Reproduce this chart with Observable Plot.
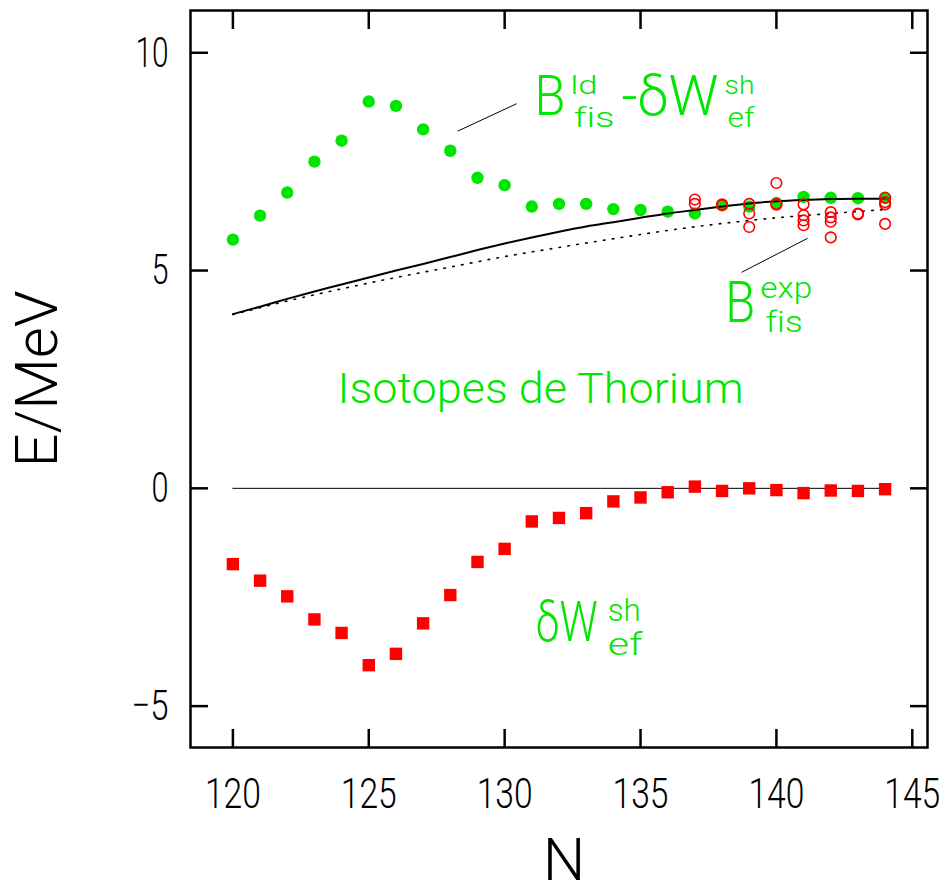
<!DOCTYPE html>
<html><head><meta charset="utf-8">
<script src="https://cdn.jsdelivr.net/npm/d3@7"></script>
<script src="https://cdn.jsdelivr.net/npm/@observablehq/plot@0.6"></script>
<style>
html,body{margin:0;padding:0;background:#fff;}
#chart svg{display:block}
#chart svg text{font-weight:300;font-variant-ligatures:none;font-feature-settings:"liga" 0}
</style></head><body><div id="chart"></div>
<script>
// Neutron number N for thorium isotopes
const neutrons = [120,121,122,123,124,125,126,127,128,129,130,131,132,133,134,135,136,137,138,139,140,141,142,143,144];
// B_fis^ld - δW_ef^sh (green filled circles)
const bLdMinusDw = [5.71,6.26,6.79,7.50,7.98,8.88,8.78,8.24,7.75,7.13,6.96,6.47,6.53,6.53,6.41,6.39,6.35,6.31,6.50,6.47,6.55,6.69,6.67,6.66,6.67];
// δW_ef^sh (red filled squares)
const deltaW = [-1.74,-2.12,-2.48,-3.01,-3.32,-4.06,-3.80,-3.10,-2.45,-1.69,-1.39,-0.76,-0.68,-0.57,-0.30,-0.21,-0.09,0.04,-0.06,0.00,-0.04,-0.11,-0.05,-0.06,-0.02];
// Experimental B_fis (red open circles)
const expN = [137,137,138,138,139,139,139,140,140,140,141,141,141,141,142,142,142,142,143,143,144,144,144,144];
const expB = [6.63,6.53,6.52,6.50,6.53,6.31,6.00,7.01,6.53,6.51,6.52,6.27,6.15,6.04,6.34,6.22,6.12,5.76,6.31,6.29,6.67,6.57,6.52,6.07];
// Solid curve
const solidN = [120,121,122,123,124,125,126,127,128,129,130,131,132,133,134,135,136,137,138,139,140,141,142,143,144];
const solidE = [4.00,4.17,4.35,4.52,4.68,4.84,5.00,5.15,5.31,5.47,5.62,5.76,5.89,6.01,6.11,6.21,6.31,6.39,6.47,6.54,6.59,6.62,6.64,6.65,6.65];
// Dotted curve
const dottedN = [120,122,124,126,128,130,132,134,136,138,140,142,144];
const dottedE = [3.99,4.30,4.58,4.84,5.08,5.32,5.53,5.73,5.92,6.08,6.21,6.31,6.40];
// Axis ticks
const xTicks = [120,125,130,135,140,145];
const yTicks = [-5,0,5,10];

// Annotation pieces (data coordinates of left baseline)
const annotations = [
  {t:"B",   n:131.10, e:8.57,  s:55, w:31},
  {t:"ld",  n:132.42, e:9.06,  s:26, w:27},
  {t:"fis", n:132.54, e:8.30,  s:28, w:41},
  {t:"-δW", n:134.30, e:8.57,  s:55, w:97},
  {t:"sh",  n:138.09, e:9.06,  s:26, w:30},
  {t:"ef",  n:138.20, e:8.30,  s:28, w:27},
  {t:"B",   n:138.12, e:3.81,  s:57, w:30},
  {t:"exp", n:139.41, e:4.36,  s:30, w:52},
  {t:"fis", n:139.60, e:3.58,  s:30, w:37},
  {t:"δW",  n:131.14, e:-3.50, s:56, w:62},
  {t:"sh",  n:133.79, e:-3.04, s:32, w:33},
  {t:"ef",  n:133.79, e:-3.82, s:32, w:35},
  {t:"Isotopes de Thorium", n:123.85, e:1.97, s:43, w:406}
];
const leaders = [
  {n1:128.27, e1:8.20, n2:130.44, e2:8.83},
  {n1:138.72, e1:4.96, n2:141.15, e2:5.74}
];

const GREEN = "#00e600", RED = "#ff0000";
const FONT = "Roboto, 'Liberation Sans', Arial, sans-serif";

const green = neutrons.map((n,i)=>({n, e:bLdMinusDw[i]}));
const red = neutrons.map((n,i)=>({n, e:deltaW[i]}));
const exp = expN.map((n,i)=>({n, e:expB[i]}));
const solid = solidN.map((n,i)=>({n, e:solidE[i]}));
const dotted = dottedN.map((n,i)=>({n, e:dottedE[i]}));

const chart = Plot.plot({
  width: 943, height: 883,
  marginLeft: 190, marginRight: 16, marginTop: 10, marginBottom: 136,
  style: {fontFamily: FONT, background: "#fff", color: "#000"},
  x: {domain: [118.44, 145.56]},
  y: {domain: [-5.95, 10.97]},
  marks: [
    Plot.ruleY([0], {x1: neutrons[0], x2: neutrons[neutrons.length-1], stroke: "#000", strokeWidth: 1}),
    Plot.dot(green, {x: "n", y: "e", r: 6.2, fill: GREEN, stroke: "none"}),
    Plot.line(dotted, {x: "n", y: "e", curve: "monotone-x", stroke: "#000", strokeWidth: 1.6, strokeDasharray: "1.6,7.4", strokeLinecap: "round"}),
    Plot.line(solid, {x: "n", y: "e", curve: "monotone-x", stroke: "#000", strokeWidth: 2}),
    Plot.dot(red, {x: "n", y: "e", symbol: "square", r: 7, fill: RED, stroke: "none"}),
    Plot.dot(exp, {x: "n", y: "e", r: 5.3, fill: "none", stroke: RED, strokeWidth: 1.6}),
    Plot.link(leaders, {x1: "n1", y1: "e1", x2: "n2", y2: "e2", stroke: "#000", strokeWidth: 1}),
    Plot.text(annotations, {x: "n", y: "e", text: "t", fontSize: "s", textAnchor: "start", lineAnchor: "bottom", fill: GREEN, ariaDescription: "annotations"}),
    Plot.frame({stroke: "#000", strokeWidth: 2.5}),
    Plot.axisX(xTicks, {anchor: "bottom", tickSize: -18, tickPadding: 48, strokeWidth: 2.5, fontSize: 43, label: null}),
    Plot.axisX(xTicks, {anchor: "top", tickSize: -18, strokeWidth: 2.5, fill: "none", label: null}),
    Plot.axisY(yTicks, {anchor: "left", tickSize: -18, tickPadding: 40, strokeWidth: 2.5, fontSize: 43, label: null}),
    Plot.axisY(yTicks, {anchor: "right", tickSize: -18, strokeWidth: 2.5, fill: "none", label: null}),
    Plot.text(["E/MeV"], {frameAnchor: "left", dx: -153, rotate: -90, fontSize: 60, textAnchor: "middle", lineAnchor: "middle", fill: "#000", ariaDescription: "ylabel"}),
    Plot.text(["N"], {frameAnchor: "bottom", dx: 5, dy: 132, fontSize: 60, textAnchor: "middle", lineAnchor: "bottom", fill: "#000", ariaDescription: "xlabel"})
  ]
});
document.getElementById("chart").appendChild(chart);

// Fit text widths to the reference glyph widths
const svg = d3.select(chart);
svg.selectAll('g[aria-description="annotations"] text').each(function(d, i) {
  d3.select(this).attr("textLength", annotations[i].w).attr("lengthAdjust", "spacingAndGlyphs");
});
svg.selectAll('g[aria-label="x-axis tick label"] text').attr("textLength", 56).attr("lengthAdjust", "spacingAndGlyphs");
const yWidths = {"10": 33, "5": 17, "0": 17, "−5": 37, "-5": 37};
svg.selectAll('g[aria-label="y-axis tick label"] text').each(function() {
  const w = yWidths[this.textContent];
  if (w) d3.select(this).attr("textLength", w).attr("lengthAdjust", "spacingAndGlyphs");
});
svg.selectAll('g[aria-description="ylabel"] text').attr("textLength", 177).attr("lengthAdjust", "spacingAndGlyphs");
</script></body></html>
